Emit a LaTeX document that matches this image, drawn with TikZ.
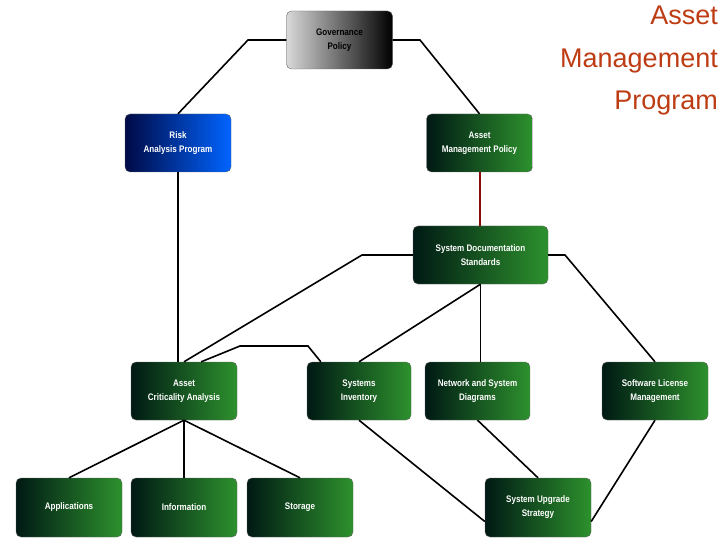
\documentclass[tikz,border=0pt]{standalone}
\usepackage{fontspec}
\setmainfont{Liberation Sans}
\definecolor{gdark}{RGB}{0,25,20}
\definecolor{glight}{RGB}{45,145,45}
\definecolor{bdark}{RGB}{0,10,70}
\definecolor{blight}{RGB}{0,100,255}
\definecolor{titlec}{RGB}{190,60,20}
\definecolor{redline}{RGB}{140,10,10}
\begin{document}
\begin{tikzpicture}[x=1pt,y=-1pt,
  box/.style={rounded corners=5pt,minimum width=106pt,minimum height=58pt,inner sep=1pt,align=center,
    font=\fontsize{9.5}{14}\selectfont\bfseries,text=white,draw=black!60,line width=0.4pt},
  green/.style={box,left color=gdark,right color=glight},
  conn/.style={line width=1.6pt,black}]
\useasboundingbox (0,0) rectangle (720,540);
\node[box,text=black,left color=white!85!black,right color=black] (gov) at (339.5,40) {\scalebox{0.85}[1]{Governance}\\\scalebox{0.85}[1]{Policy}};
\node[box,left color=bdark,right color=blight] (risk) at (178,143) {\scalebox{0.85}[1]{Risk}\\\scalebox{0.85}[1]{Analysis Program}};
\node[green] (amp) at (479.5,143) {\scalebox{0.85}[1]{Asset}\\\scalebox{0.85}[1]{Management Policy}};
\node[green,minimum width=135pt] (sds) at (480.5,255) {\scalebox{0.85}[1]{System Documentation}\\\scalebox{0.85}[1]{Standards}};
\node[green] (aca) at (184,391) {\scalebox{0.85}[1]{Asset}\\\scalebox{0.85}[1]{Criticality Analysis}};
\node[green,minimum width=104pt] (si) at (359,391) {\scalebox{0.85}[1]{Systems}\\\scalebox{0.85}[1]{Inventory}};
\node[green,minimum width=105pt] (net) at (477.5,391) {\scalebox{0.85}[1]{Network and System}\\\scalebox{0.85}[1]{Diagrams}};
\node[green] (sw) at (655,391) {\scalebox{0.85}[1]{Software License}\\\scalebox{0.85}[1]{Management}};
\node[green,minimum height=59pt] (app) at (69,507.5) {\scalebox{0.85}[1]{Applications}};
\node[green,minimum height=59pt] (info) at (184,507.5) {\scalebox{0.85}[1]{Information}};
\node[green,minimum height=59pt] (sto) at (300,507.5) {\scalebox{0.85}[1]{Storage}};
\node[green,minimum height=59pt] (sus) at (538,507.5) {\scalebox{0.85}[1]{System Upgrade}\\\scalebox{0.85}[1]{Strategy}};
\node[anchor=north east,align=right,text=titlec,font=\fontsize{27}{42.5}\selectfont,inner sep=0pt] (title) at (718,6) {Asset\\Management\\Program};
\draw[conn] (gov.west) -- (248,40) -- (risk.north);
\draw[conn] (gov.east) -- (420,40) -- (amp.north);
\draw[line width=2pt,redline] (amp.south) -- (amp.south |- sds.north);
\draw[conn] (sds.west) -- (362,255) -- (aca.north);
\draw[conn] (risk.south) -- (risk.south |- aca.north);
\draw[conn] ([xshift=-36pt]aca.north east) -- (240,346) -- (308,346) -- ([xshift=14pt]si.north west);
\draw[conn] (sds.south) -- (si.north);
\draw[conn] (sds.south) -- (sds.south |- net.north);
\draw[conn] (sds.east) -- (565,255) -- (sw.north);
\draw[conn] (aca.south) -- (app.north);
\draw[conn] (aca.south) -- (info.north);
\draw[conn] (aca.south) -- (sto.north);
\draw[conn] (si.south) -- ([yshift=-14pt]sus.west);
\draw[conn] (net.south) -- (sus.north);
\draw[conn] (sw.south) -- ([yshift=-14pt]sus.east);
\end{tikzpicture}
\end{document}
